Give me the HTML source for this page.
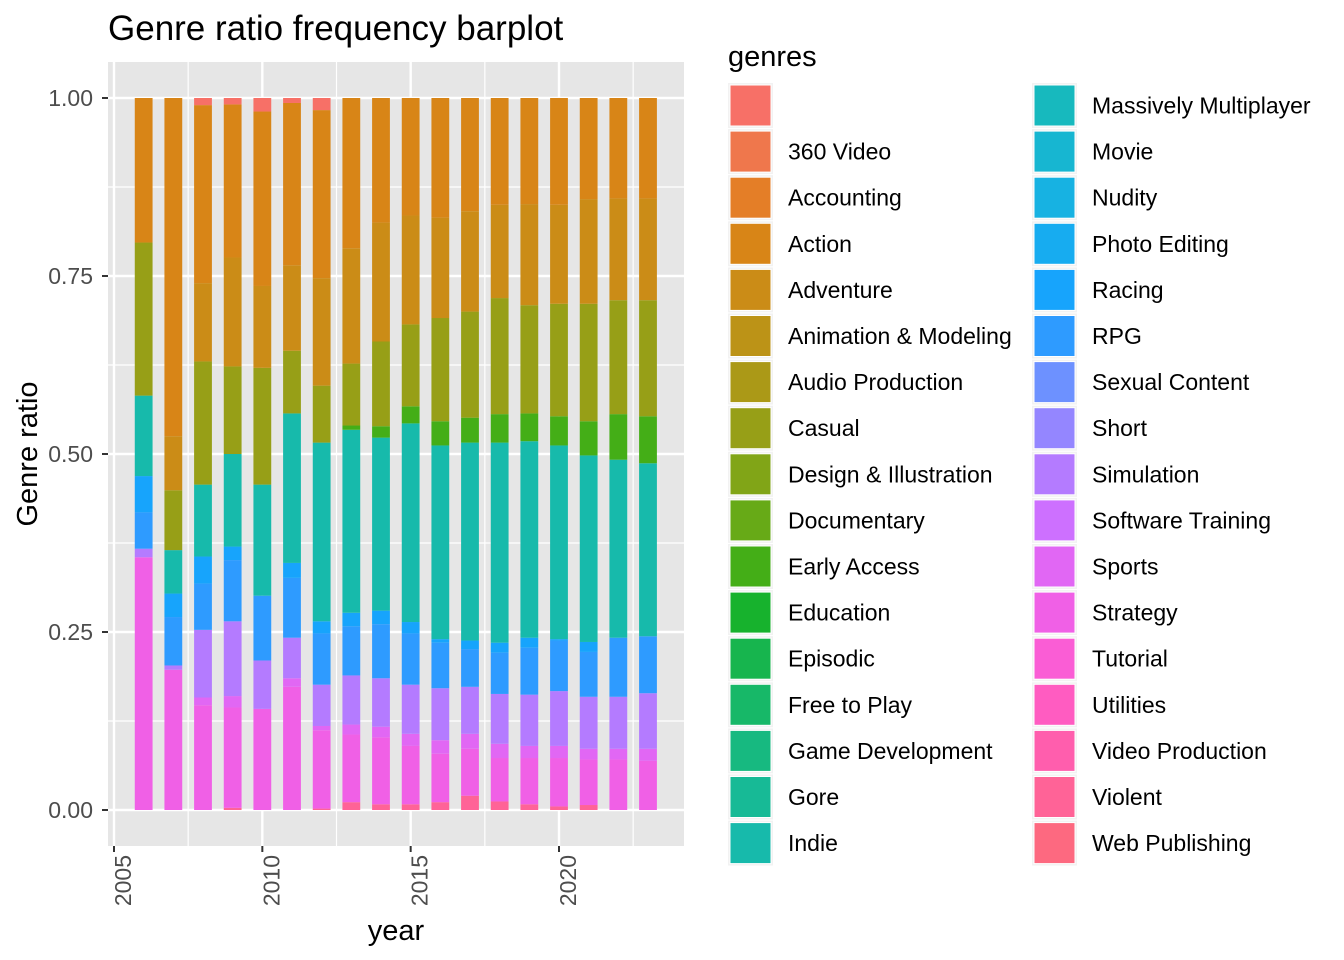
<!DOCTYPE html>
<html><head><meta charset="utf-8"><style>
html,body{margin:0;padding:0;background:#fff;}
svg{display:block;font-family:"Liberation Sans",Arial,sans-serif;}
</style></head><body>
<svg id="chart" width="1344" height="960" viewBox="0 0 1344 960" xmlns="http://www.w3.org/2000/svg">
<text x="108" y="40" font-size="35" fill="#000">Genre ratio frequency barplot</text>
<rect x="108" y="62" width="576" height="784" fill="#E6E6E6"/>
<g id="grid"></g>
<g id="bars"></g>
<g id="axes"></g>
<text x="396" y="940" font-size="29" text-anchor="middle" fill="#000">year</text>
<text transform="translate(37,454) rotate(-90)" font-size="29" text-anchor="middle" fill="#000">Genre ratio</text>
<text x="728" y="66" font-size="29" fill="#000">genres</text>
<g id="legend"></g>
</svg>
<script>
const years = [2006,2007,2008,2009,2010,2011,2012,2013,2014,2015,2016,2017,2018,2019,2020,2021,2022,2023];
const genres = ["","360 Video","Accounting","Action","Adventure","Animation & Modeling","Audio Production","Casual","Design & Illustration","Documentary","Early Access","Education","Episodic","Free to Play","Game Development","Gore","Indie","Massively Multiplayer","Movie","Nudity","Photo Editing","Racing","RPG","Sexual Content","Short","Simulation","Software Training","Sports","Strategy","Tutorial","Utilities","Video Production","Violent","Web Publishing"];
const yTicks = [0,0.25,0.5,0.75,1];
const yTickLabels = ["0.00","0.25","0.50","0.75","1.00"];
const xTicks = [2005,2010,2015,2020];
const xTickLabels = ["2005","2010","2015","2020"];
// ratios per genre per year
const blankRatio =      [0,0,0.010,0.009,0.019,0.007,0.017,0,0,0,0,0,0,0,0,0,0,0];
const actionRatio =     [0.203,0.475,0.250,0.215,0.245,0.228,0.236,0.211,0.175,0.165,0.168,0.159,0.150,0.149,0.150,0.142,0.141,0.141];
const adventureRatio =  [0,0.076,0.110,0.153,0.115,0.120,0.151,0.162,0.167,0.153,0.141,0.141,0.131,0.142,0.139,0.147,0.143,0.143];
const casualRatio =     [0.215,0.084,0.173,0.123,0.164,0.088,0.080,0.087,0.119,0.115,0.145,0.149,0.163,0.152,0.158,0.165,0.160,0.163];
const earlyAccessRatio =[0,0,0,0,0,0,0,0.006,0.016,0.024,0.034,0.035,0.040,0.039,0.041,0.048,0.064,0.066];
const indieRatio =      [0.113,0.061,0.101,0.130,0.156,0.210,0.251,0.257,0.243,0.279,0.272,0.278,0.281,0.276,0.272,0.262,0.250,0.243];
const racingRatio =     [0.051,0.033,0.038,0.019,0,0.021,0.017,0.019,0.019,0.016,0.005,0.012,0.014,0.014,0.002,0.014,0,0];
const rpgRatio =        [0.051,0.068,0.065,0.086,0.091,0.084,0.072,0.069,0.076,0.072,0.064,0.053,0.058,0.066,0.071,0.063,0.083,0.080];
const simulationRatio = [0.012,0.006,0.095,0.105,0.068,0.057,0.058,0.069,0.068,0.069,0.073,0.066,0.070,0.072,0.077,0.073,0.073,0.078];
const sportsRatio =     [0,0,0.011,0.016,0,0.012,0.006,0.014,0.015,0.017,0.019,0.021,0.020,0.017,0.017,0.015,0.015,0.017];
const strategyRatio =   [0.355,0.197,0.147,0.141,0.142,0.173,0.110,0.095,0.094,0.082,0.068,0.066,0.061,0.065,0.068,0.064,0.071,0.069];
const violentRatio =    [0,0,0,0.003,0,0,0.002,0.011,0.008,0.008,0.011,0.020,0.012,0.008,0.005,0.007,0,0];

const seriesByGenre = {"":blankRatio,"Action":actionRatio,"Adventure":adventureRatio,"Casual":casualRatio,"Early Access":earlyAccessRatio,"Indie":indieRatio,"Racing":racingRatio,"RPG":rpgRatio,"Simulation":simulationRatio,"Sports":sportsRatio,"Strategy":strategyRatio,"Violent":violentRatio};

const NS="http://www.w3.org/2000/svg";
const P={l:108,r:684,t:62,b:846};
function xs(v){return 114+(v-2005)*(559-114)/15;}
function ys(v){return 810-v*712;}
function hcl(h,c,l){
  const Xn=95.047,Yn=100,Zn=108.883;
  const hr=h*Math.PI/180,u=c*Math.cos(hr),v=c*Math.sin(hr);
  const Y=Yn*Math.pow((l+16)/116,3);
  const d=Xn+15*Yn+3*Zn,un=4*Xn/d,vn=9*Yn/d;
  const up=u/(13*l)+un,vp=v/(13*l)+vn;
  const X=9*Y*up/(4*vp),Z=-X/3-5*Y+3*Y/vp;
  const x=X/100,y=Y/100,z=Z/100;
  let r=3.240479*x-1.53715*y-0.498535*z,g=-0.969256*x+1.875992*y+0.041556*z,b=0.055648*x-0.204043*y+1.057311*z;
  const gm=t=>{t=t<=0.0031308?12.92*t:1.055*Math.pow(Math.max(t,0),1/2.4)-0.055;t=Math.max(0,Math.min(1,t));t=0.09+0.91*Math.pow(t,1.25);return Math.round(Math.min(1,t)*255);};
  return "rgb("+gm(r)+","+gm(g)+","+gm(b)+")";
}
const colors=genres.map((g,i)=>hcl(15+i*360/34,100,65));
function mk(tag,attrs,parent){const e=document.createElementNS(NS,tag);for(const k in attrs)e.setAttribute(k,attrs[k]);parent.appendChild(e);return e;}

const grid=document.getElementById('grid');
[0.125,0.375,0.625,0.875].forEach(v=>{const l=mk('line',{x1:P.l,x2:P.r,y1:ys(v),y2:ys(v),stroke:'#fff','stroke-width':1.2},grid);

});
[2007.5,2012.5,2017.5,2022.5].forEach(v=>{const l=mk('line',{x1:xs(v),x2:xs(v),y1:P.t,y2:P.b,stroke:'#fff','stroke-width':1.2},grid);

});
yTicks.forEach(v=>{const l=mk('line',{x1:P.l,x2:P.r,y1:ys(v),y2:ys(v),stroke:'#fff','stroke-width':2.4},grid);

});
xTicks.forEach(v=>{const l=mk('line',{x1:xs(v),x2:xs(v),y1:P.t,y2:P.b,stroke:'#fff','stroke-width':2.4},grid);

});

const bars=document.getElementById('bars');
const bw=0.6*(559-114)/15;
years.forEach((yr,i)=>{
  let tot=0;genres.forEach(g=>{if(seriesByGenre[g])tot+=seriesByGenre[g][i];});
  let cum=0;
  for(let gi=genres.length-1;gi>=0;gi--){
    const s=seriesByGenre[genres[gi]];if(!s)continue;
    const v=s[i]/tot;if(v<=0)continue;
    const r=mk('rect',{x:xs(yr)-bw/2,y:ys(cum+v),width:bw,height:ys(cum)-ys(cum+v),fill:colors[gi]},bars);
    
    
    cum+=v;
  }
});

const axes=document.getElementById('axes');
yTicks.forEach((v,i)=>{
  const t=mk('line',{x1:102,x2:108,y1:ys(v),y2:ys(v),stroke:'#333','stroke-width':2},axes);
  
  
  const tx=mk('text',{x:93,y:ys(v)+8,'font-size':23,'text-anchor':'end',fill:'#4D4D4D'},axes);
  tx.textContent=yTickLabels[i];
  
  
});
xTicks.forEach((v,i)=>{
  const t=mk('line',{x1:xs(v),x2:xs(v),y1:846,y2:852,stroke:'#333','stroke-width':2},axes);
  
  
  const tx=mk('text',{transform:'translate('+(xs(v)+17)+',855) rotate(-90)','font-size':23,'text-anchor':'end',fill:'#4D4D4D'},axes);
  tx.textContent=xTickLabels[i];
  
  
});

const legend=document.getElementById('legend');
genres.forEach((g,i)=>{
  const col=i<17?0:1,row=i%17;
  const kx=col?1033:729,ky=84+row*46.1;
  const bg=mk('rect',{x:kx-1,y:ky-1,width:45,height:45,fill:'#F2F2F2'},legend);
  
  
  const r=mk('rect',{x:kx+1,y:ky+1,width:41,height:41,fill:colors[i],stroke:'#fff','stroke-width':1},legend);
  
  
  const t=mk('text',{x:col?1092:788,y:ky+29.5,'font-size':23,fill:'#000'},legend);
  t.textContent=g;
  
  
});
</script>
</body></html>
